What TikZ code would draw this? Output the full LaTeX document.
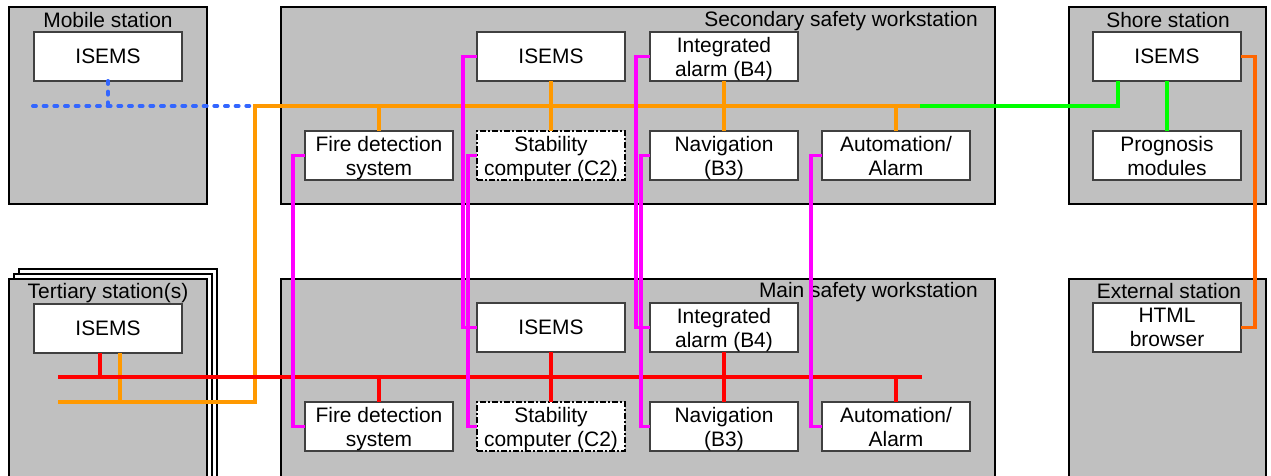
\documentclass[tikz,border=0pt]{standalone}
\usepackage{fontspec}
\setmainfont{Liberation Sans}
\usetikzlibrary{positioning,calc}
\definecolor{cStn}{HTML}{C0C0C0}
\definecolor{cLan}{HTML}{FF9900}
\definecolor{cCan}{HTML}{FF0000}
\definecolor{cLnk}{HTML}{FF00FF}
\definecolor{cSat}{HTML}{00FF00}
\definecolor{cWan}{HTML}{FF6600}
\definecolor{cWls}{HTML}{3366FF}
\tikzset{
  stn/.style  ={draw=black,fill=cStn,line width=0.9pt,anchor=north west,
                inner sep=0pt,outer sep=0pt},
  stk/.style  ={stn,fill=white},
  blk/.style  ={draw=black!75,fill=white,line width=0.8pt,anchor=north west,
                minimum width=111pt,minimum height=36.75pt,inner sep=0pt,
                outer sep=0pt,align=center,text depth=0pt},
  dblk/.style ={blk,draw=black,line width=1.2pt,
                dash pattern=on 4.5pt off 1.5pt on 1.5pt off 1.5pt},
  ttl/.style  ={inner sep=0pt},
  lan/.style  ={draw=cLan,line width=2.3pt},
  can/.style  ={draw=cCan,line width=2.3pt},
  xlnk/.style ={draw=cLnk,line width=2.3pt},
  sat/.style  ={draw=cSat,line width=2.3pt},
  wan/.style  ={draw=cWan,line width=2.3pt},
  wls/.style  ={draw=cWls,line width=3pt,line cap=round,
                dash pattern=on 2.2pt off 5.8pt},
}

\begin{document}
\begin{tikzpicture}[x=0.75pt,y=-0.75pt,font=\fontsize{15.7}{18}\selectfont]
\clip (0,0) rectangle (1271,475);

% stations
\node[stn,minimum width=148.5pt,minimum height=147.75pt] (mob) at (9,7) {};
\node[stn,minimum width=535.5pt,minimum height=147.75pt] (sec) at (281,7) {};
\node[stn,minimum width=147.75pt,minimum height=147.75pt] (shr) at (1069,7) {};
\node[stk,minimum width=148.5pt,minimum height=160pt] (ter3) at (19,269) {};
\node[stk,minimum width=148.5pt,minimum height=160pt] (ter2) at (14,274) {};
\node[stn,minimum width=148.5pt,minimum height=150.75pt] (ter) at (9,279) {};
\node[stn,minimum width=535.5pt,minimum height=150.75pt] (mws) at (281,279) {};
\node[stn,minimum width=147.75pt,minimum height=150.75pt] (ext) at (1069,279) {};

\node[ttl,anchor=base] (mobT) at (108,27) {Mobile station};
\node[ttl,anchor=base east] (secT) at (978,26) {Secondary safety workstation};
\node[ttl,anchor=base] (shrT) at (1168,27) {Shore station};
\node[ttl,anchor=base] (terT) at (108,298) {Tertiary station(s)};
\node[ttl,anchor=base east] (mwsT) at (978,297) {Main safety workstation};
\node[ttl,anchor=base] (extT) at (1169,298) {External station};

% boxes
\node[blk] (mobIsems) at (34,32) {ISEMS};
\node[blk] (terIsems) at (34,304) {ISEMS};
\node[blk] (shIsems) at (1093,32) {ISEMS};
\node[blk] (prog) at (1093,131) {Prognosis\\modules};
\node[blk] (html) at (1093,303) {HTML\\browser};
\foreach \p/\y in {s/0,m/271}{
  \node[blk]  (\p-isems) at (477,32+\y)  {ISEMS};
  \node[blk]  (\p-int)   at (650,32+\y)  {Integrated\\alarm (B4)};
  \node[blk]  (\p-fire)  at (305,131+\y) {Fire detection\\system};
  \node[dblk] (\p-stab)  at (477,131+\y) {Stability\\computer (C2)};
  \node[blk]  (\p-nav)   at (650,131+\y) {Navigation\\(B3)};
  \node[blk]  (\p-auto)  at (822,131+\y) {Automation/\\Alarm};
}

% buses
\coordinate (bL) at (33,106);
\coordinate (oL) at (255,106);
\coordinate (oR) at (920,106);
\coordinate (oT) at (58,402);
\coordinate (rL) at (58,377);
\coordinate (rR) at (922,377);

\draw[wls] (bL) -- (oL);
\draw[wls] (mobIsems.south) -- (mobIsems.south |- oL);
\draw[lan] (oR) -- (oL) |- (oT);
\draw[lan] ([xshift=9pt]terIsems.south) -- ++(0,49);
\draw[can] (rL) -- (rR);
\draw[can] ([xshift=-6pt]terIsems.south) -- ++(0,24);
\draw[sat] (oR) -| ([xshift=18.75pt]shIsems.south west);
\draw[sat] (shIsems.south) -- (prog.north);
\draw[wan] (shIsems.east) -- ++(14,0) |- (html.east);

\foreach \n in {fire,auto}{
  \draw[lan] (s-\n.north) -- (s-\n.north |- oL);
  \draw[can] (m-\n.north) -- (m-\n.north |- rL);
}
\draw[lan] (s-isems.south) -- (s-stab.north);
\draw[lan] (s-int.south) -- (s-nav.north);
\draw[can] (m-isems.south) -- (m-stab.north);
\draw[can] (m-int.south) -- (m-nav.north);

% secondary to main
\foreach \n/\d in {fire/12,isems/14,stab/9,int/14,nav/9,auto/11}
  {\draw[xlnk] (s-\n.west) -- ++(-\d,0) |- (m-\n.west);}
\end{tikzpicture}
\end{document}
